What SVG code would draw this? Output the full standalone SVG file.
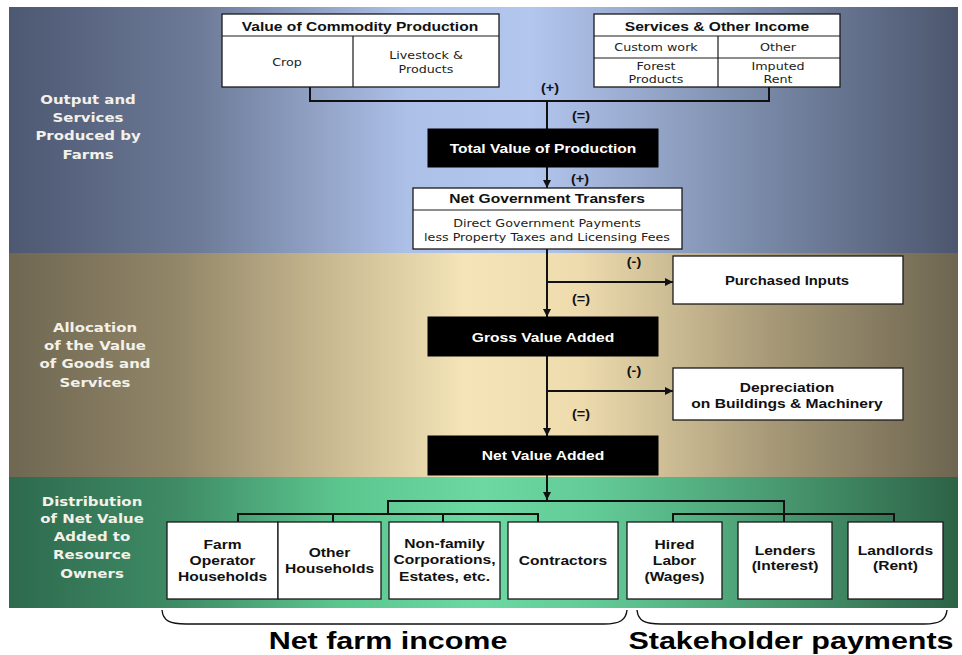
<svg xmlns="http://www.w3.org/2000/svg" width="962" height="655" viewBox="0 0 962 655">
<style>
.box{fill:#fff;stroke:#1a1a1a;stroke-width:1.3}
.blk{fill:#000;stroke:#000}
.div{stroke:#1a1a1a;stroke-width:1.2;fill:none}
.hd{font-family:"Liberation Sans",Arial,sans-serif;font-weight:bold;font-size:13px;fill:#111;text-anchor:middle}
.wt{fill:#fff}
.sm{font-family:"DejaVu Sans",Verdana,sans-serif;font-size:10.6px;fill:#222;text-anchor:middle}
.lb{font-family:"DejaVu Sans",Verdana,sans-serif;font-weight:bold;font-size:13px;fill:#f3f1e8;text-anchor:middle}
.op{font-family:"Liberation Sans",Arial,sans-serif;font-weight:bold;font-size:12px;fill:#111;text-anchor:middle}
.big{font-family:"Liberation Sans",Arial,sans-serif;font-weight:bold;font-size:24px;fill:#000;text-anchor:middle}
.ln{stroke:#111;stroke-width:2;fill:none}
.br{stroke:#111;stroke-width:1.4;fill:none}
</style>
<defs>
<linearGradient id="g1" x1="0" y1="0" x2="1" y2="0">
<stop offset="0" stop-color="#4d5872"/><stop offset="0.2" stop-color="#6d7b98"/><stop offset="0.42" stop-color="#adc0e8"/><stop offset="0.55" stop-color="#b3c6ee"/><stop offset="0.8" stop-color="#7787a5"/><stop offset="1" stop-color="#4c566e"/>
</linearGradient>
<linearGradient id="g2" x1="0" y1="0" x2="1" y2="0">
<stop offset="0" stop-color="#6f6752"/><stop offset="0.18" stop-color="#938769"/><stop offset="0.35" stop-color="#cdbd94"/><stop offset="0.48" stop-color="#f4e4b8"/><stop offset="0.6" stop-color="#eedcae"/><stop offset="0.8" stop-color="#a89a78"/><stop offset="1" stop-color="#6d6550"/>
</linearGradient>
<linearGradient id="g3" x1="0" y1="0" x2="1" y2="0">
<stop offset="0" stop-color="#2e6a4e"/><stop offset="0.18" stop-color="#3f8c66"/><stop offset="0.35" stop-color="#5cc68f"/><stop offset="0.5" stop-color="#6cd8a2"/><stop offset="0.62" stop-color="#62ca96"/><stop offset="0.8" stop-color="#4a9c72"/><stop offset="1" stop-color="#2d6247"/>
</linearGradient>
<marker id="ah" markerUnits="userSpaceOnUse" markerWidth="8" markerHeight="8" refX="8" refY="4" orient="auto">
<path d="M0,0 L8,4 L0,8 z" fill="#111"/>
</marker>
</defs>
<rect width="962" height="655" fill="#fff"/>
<g id="bands">
<rect x="9" y="7" width="949" height="246" fill="url(#g1)"/>
<rect x="9" y="253" width="949" height="224" fill="url(#g2)"/>
<rect x="9" y="477" width="949" height="131" fill="url(#g3)"/>
<g transform="translate(88 0) scale(1.15 1)" class="lb">
<text x="0" y="104">Output and</text><text x="0" y="122">Services</text><text x="0" y="140">Produced by</text><text x="0" y="159">Farms</text>
</g>
<g transform="translate(95 0) scale(1.15 1)" class="lb">
<text x="0" y="332">Allocation</text><text x="0" y="350">of the Value</text><text x="0" y="368">of Goods and</text><text x="0" y="387">Services</text>
</g>
<g transform="translate(92 0) scale(1.15 1)" class="lb">
<text x="0" y="506">Distribution</text><text x="0" y="523">of Net Value</text><text x="0" y="541">Added to</text><text x="0" y="559">Resource</text><text x="0" y="578">Owners</text>
</g>
</g>
<g id="connectors">
<path class="ln" d="M310,87 V101 H769 V87"/>
<path class="ln" d="M547,101 V129"/>
<path class="ln" d="M547,167 V188" marker-end="url(#ah)"/>
<path class="ln" d="M547,249 V317" marker-end="url(#ah)"/>
<path class="ln" d="M547,282 H673" marker-end="url(#ah)"/>
<path class="ln" d="M547,356 V436" marker-end="url(#ah)"/>
<path class="ln" d="M547,391 H673" marker-end="url(#ah)"/>
<path class="ln" d="M547,475 V500" marker-end="url(#ah)"/>
<path class="ln" d="M388,514 V501 H784 V522"/>
<path class="ln" d="M238,522 V514 H538 V522"/>
<path class="ln" d="M333,514 V522 M443,514 V522"/>
<path class="ln" d="M673,522 V514 H894 V522"/>
<text class="op" transform="translate(550 92) scale(1.2 1)">(+)</text>
<text class="op" transform="translate(581 120) scale(1.2 1)">(=)</text>
<text class="op" transform="translate(580 183) scale(1.2 1)">(+)</text>
<text class="op" transform="translate(634 266) scale(1.2 1)">(-)</text>
<text class="op" transform="translate(581 303) scale(1.2 1)">(=)</text>
<text class="op" transform="translate(634 375) scale(1.2 1)">(-)</text>
<text class="op" transform="translate(581 418) scale(1.2 1)">(=)</text>
</g>
<g id="commodity">
<rect class="box" x="222" y="14" width="277" height="73"/>
<path class="div" d="M222,36 H499 M353,36 V87"/>
<text class="hd" transform="translate(360 31) scale(1.2 1)">Value of Commodity Production</text>
<text class="sm" transform="translate(287 66) scale(1.2 1)">Crop</text>
<g class="sm" transform="translate(426 0) scale(1.2 1)"><text x="0" y="59">Livestock &amp;</text><text x="0" y="73">Products</text></g>
</g>
<g id="services">
<rect class="box" x="594" y="14" width="246" height="73"/>
<path class="div" d="M594,36 H840 M594,58 H840 M718,36 V87"/>
<text class="hd" transform="translate(717 31) scale(1.2 1)">Services &amp; Other Income</text>
<text class="sm" transform="translate(656 51) scale(1.2 1)">Custom work</text>
<text class="sm" transform="translate(778 51) scale(1.2 1)">Other</text>
<g class="sm" transform="translate(656 0) scale(1.2 1)"><text x="0" y="70">Forest</text><text x="0" y="83">Products</text></g>
<g class="sm" transform="translate(778 0) scale(1.2 1)"><text x="0" y="70">Imputed</text><text x="0" y="83">Rent</text></g>
</g>
<g id="total">
<rect class="blk" x="428" y="129" width="230" height="38"/>
<text class="hd wt" transform="translate(543 153) scale(1.2 1)">Total Value of Production</text>
</g>
<g id="netgov">
<rect class="box" x="413" y="188" width="269" height="61"/>
<path class="div" d="M413,210 H682"/>
<text class="hd" transform="translate(547 203) scale(1.2 1)">Net Government Transfers</text>
<g class="sm" transform="translate(547 0) scale(1.2 1)"><text x="0" y="227">Direct Government Payments</text><text x="0" y="241">less Property Taxes and Licensing Fees</text></g>
</g>
<g id="purchased">
<rect class="box" x="673" y="256" width="230" height="48"/>
<text class="hd" transform="translate(787 285) scale(1.14 1)">Purchased Inputs</text>
</g>
<g id="gross">
<rect class="blk" x="428" y="317" width="230" height="39"/>
<text class="hd wt" transform="translate(543 342) scale(1.2 1)">Gross Value Added</text>
</g>
<g id="depreciation">
<rect class="box" x="673" y="368" width="230" height="52"/>
<g class="hd" transform="translate(787 0) scale(1.2 1)"><text x="0" y="392">Depreciation</text><text x="0" y="408">on Buildings &amp; Machinery</text></g>
</g>
<g id="netvalue">
<rect class="blk" x="428" y="436" width="230" height="39"/>
<text class="hd wt" transform="translate(543 460) scale(1.2 1)">Net Value Added</text>
</g>
<g id="farmop">
<rect class="box" x="167" y="522" width="111" height="77"/>
<g class="hd" transform="translate(222.5 0) scale(1.2 1)"><text x="0" y="549">Farm</text><text x="0" y="565">Operator</text><text x="0" y="581">Households</text></g>
</g>
<g id="otherhh">
<rect class="box" x="278" y="522" width="103" height="77"/>
<g class="hd" transform="translate(329.5 0) scale(1.2 1)"><text x="0" y="557">Other</text><text x="0" y="573">Households</text></g>
</g>
<g id="nonfamily">
<rect class="box" x="389" y="522" width="111" height="77"/>
<g class="hd" transform="translate(444.5 0) scale(1.2 1)"><text x="0" y="548">Non-family</text><text x="0" y="564">Corporations,</text><text x="0" y="581">Estates, etc.</text></g>
</g>
<g id="contractors">
<rect class="box" x="508" y="522" width="110" height="77"/>
<text class="hd" transform="translate(563 565) scale(1.2 1)">Contractors</text>
</g>
<g id="hired">
<rect class="box" x="627" y="522" width="95" height="77"/>
<g class="hd" transform="translate(674.5 0) scale(1.2 1)"><text x="0" y="549">Hired</text><text x="0" y="565">Labor</text><text x="0" y="581">(Wages)</text></g>
</g>
<g id="lenders">
<rect class="box" x="738" y="522" width="94" height="77"/>
<g class="hd" transform="translate(785 0) scale(1.2 1)"><text x="0" y="555">Lenders</text><text x="0" y="570">(Interest)</text></g>
</g>
<g id="landlords">
<rect class="box" x="848" y="522" width="95" height="77"/>
<g class="hd" transform="translate(895.5 0) scale(1.2 1)"><text x="0" y="555">Landlords</text><text x="0" y="570">(Rent)</text></g>
</g>
<g id="netfarmincome">
<path class="br" d="M162,610 C163,621 170,624 186,624 L604,624 C620,624 626,620 627,610"/>
<text class="big" transform="translate(388 649) scale(1.27 1)">Net farm income</text>
</g>
<g id="stakeholder">
<path class="br" d="M637,610 C638,621 645,624 661,624 L924,624 C940,624 946,620 947,610"/>
<text class="big" transform="translate(791 649) scale(1.27 1)">Stakeholder payments</text>
</g>
</svg>
